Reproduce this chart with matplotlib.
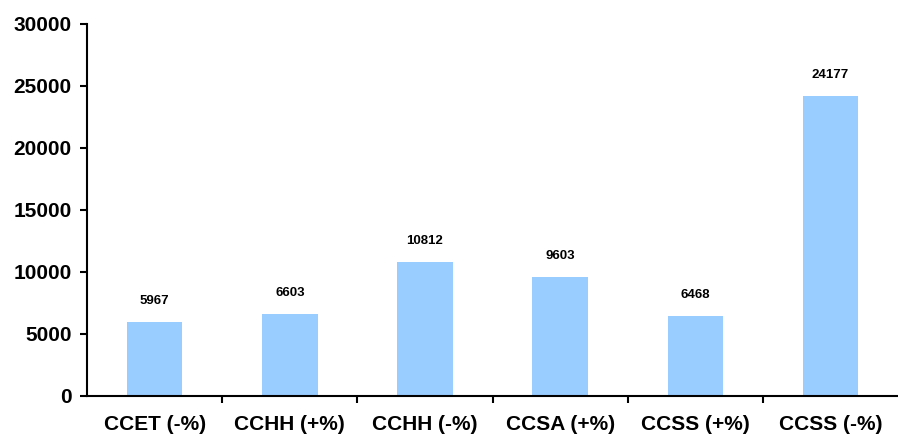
import numpy as np
import matplotlib.pyplot as plt
from matplotlib.ticker import FixedLocator

categories = ['CCET (-%)', 'CCHH (+%)', 'CCHH (-%)', 'CCSA (+%)', 'CCSS (+%)', 'CCSS (-%)']
values = [5967, 6603, 10812, 9603, 6468, 24177]

plt.rcParams['font.family'] = ['Liberation Sans', 'DejaVu Sans']

fig = plt.figure(figsize=(8.98, 4.36), dpi=100)
ax = fig.add_axes([0.097, 0.092, 0.903, 0.853])

x = np.arange(len(categories))
bars = ax.bar(x, values, width=0.41, color='#99CCFF', zorder=2)

for xi, v in zip(x, values):
    ax.text(xi, v + 1200, str(v), ha='center', va='bottom',
            fontsize=9.5, fontweight='bold')

ax.set_xlim(-0.5, len(categories) - 0.5)
ax.set_ylim(0, 30000)
ax.set_yticks(range(0, 30001, 5000))
ax.set_xticks(x)
ax.set_xticklabels(categories, fontsize=15, fontweight='bold')
ax.xaxis.set_minor_locator(FixedLocator(np.arange(0.5, len(categories) - 1, 1)))
ax.tick_params(axis='x', which='major', length=0, pad=14)
ax.tick_params(axis='x', which='minor', length=5, width=1.5, direction='out')
ax.tick_params(axis='y', length=5, width=1.5, direction='out', labelsize=15, pad=6)
for lab in ax.get_yticklabels():
    lab.set_fontweight('bold')

for side in ['top', 'right']:
    ax.spines[side].set_visible(False)
for side in ['left', 'bottom']:
    ax.spines[side].set_linewidth(1.5)

fig.savefig('out.png', dpi=100)
